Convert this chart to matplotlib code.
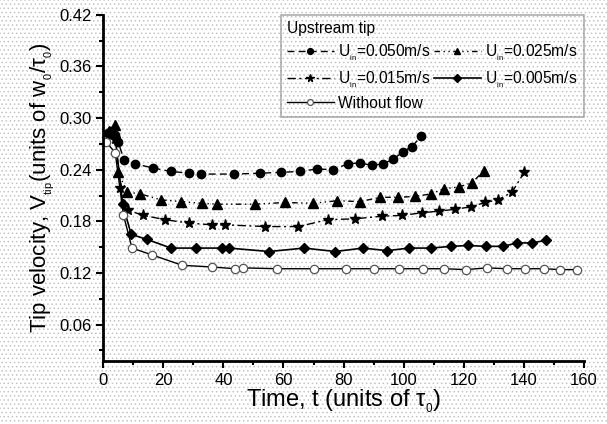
import matplotlib
matplotlib.use('Agg')
import matplotlib.pyplot as plt
from matplotlib.ticker import MultipleLocator
from matplotlib.patches import Rectangle

plt.rcParams['font.family'] = ['Liberation Sans', 'DejaVu Sans']
plt.rcParams['mathtext.fontset'] = 'custom'
plt.rcParams['mathtext.rm'] = 'Liberation Sans'
plt.rcParams['mathtext.it'] = 'Liberation Sans:italic'
plt.rcParams['hatch.linewidth'] = 0.6

# Upstream tip velocities (units of w0/tau0) vs time (units of tau0)
t_050 = [1.5, 2.5, 4, 5, 7, 10.6, 16.6, 22.6, 28.6, 32.6, 43.6, 52.2, 59.2, 65.5,
         71.2, 76.5, 81.5, 85.5, 89.5, 93.1, 96.5, 99.8, 102.8, 105.8]
v_050 = [0.283, 0.285, 0.28, 0.272, 0.251, 0.247, 0.242, 0.238, 0.236, 0.235, 0.235,
         0.236, 0.237, 0.238, 0.241, 0.240, 0.247, 0.248, 0.245, 0.247, 0.252, 0.261,
         0.267, 0.279]

t_025 = [2, 4, 5, 8, 12.3, 19.3, 26, 33, 38, 50.6, 60.5, 69.9, 77.8, 85.5, 92.2,
         98.1, 103.8, 109.1, 113.4, 118.4, 122.8, 126.7]
v_025 = [0.285, 0.292, 0.237, 0.214, 0.212, 0.205, 0.203, 0.201, 0.200, 0.200, 0.202,
         0.201, 0.204, 0.203, 0.208, 0.208, 0.209, 0.212, 0.218, 0.220, 0.225, 0.239]

t_015 = [2, 4, 5.7, 8.3, 13.3, 20.6, 28.6, 36.3, 40.6, 53.9, 64.9, 74.8, 83.8, 92.8,
         99.5, 106.1, 111.8, 117.1, 122.4, 127.1, 131.4, 136.1, 140.1]
v_015 = [0.280, 0.276, 0.219, 0.193, 0.187, 0.182, 0.178, 0.176, 0.176, 0.174, 0.174,
         0.182, 0.183, 0.186, 0.187, 0.190, 0.192, 0.194, 0.197, 0.202, 0.205, 0.214,
         0.237]

t_005 = [2, 4, 6.5, 9.3, 14.6, 22.6, 30.9, 39.6, 41.9, 55.2, 66.9, 77.2, 86.5, 94.5,
         101.8, 109.1, 115.8, 121.4, 127.4, 133.1, 137.7, 142.7, 147.4]
v_005 = [0.281, 0.278, 0.200, 0.165, 0.159, 0.149, 0.149, 0.149, 0.149, 0.145, 0.149,
         0.145, 0.149, 0.146, 0.149, 0.149, 0.151, 0.152, 0.151, 0.151, 0.155, 0.155,
         0.158]

t_noflow = [1, 4, 6.7, 9.6, 16.3, 26.3, 36.3, 43.9, 46.6, 57.9, 70.2, 80.8, 90.2, 98.5,
            106.5, 113.4, 120.8, 127.7, 134.4, 140.4, 146.7, 152.0, 157.7]
v_noflow = [0.272, 0.260, 0.188, 0.149, 0.141, 0.129, 0.127, 0.125, 0.126, 0.125, 0.125,
            0.125, 0.125, 0.125, 0.125, 0.125, 0.124, 0.126, 0.125, 0.125, 0.125, 0.124,
            0.124]

labels = [r'U$_{_{\rm in}}$=0.050m/s', r'U$_{_{\rm in}}$=0.025m/s',
          r'U$_{_{\rm in}}$=0.015m/s', r'U$_{_{\rm in}}$=0.005m/s', 'Without flow']

fig = plt.figure(figsize=(6.07, 4.24), dpi=100)
fig.patch.set_facecolor('white')
# halftone-like dotted background
fig.add_artist(Rectangle((0, 0), 1, 1, transform=fig.transFigure, facecolor='white',
                         edgecolor='#c4c4c4', lw=0, hatch='....', zorder=-10))
ax = fig.add_axes([0.170, 0.149, 0.792, 0.816])
ax.set_facecolor('none')

l1, = ax.plot(t_050, v_050, color='black', lw=1.0, ls=(0, (5, 3)), marker='o', ms=6)
l2, = ax.plot(t_025, v_025, color='black', lw=1.0, ls=(0, (4, 2.5, 1, 2.5, 1, 2.5)),
              marker='^', ms=7)
l3, = ax.plot(t_015, v_015, color='black', lw=1.0, ls=(0, (6, 2.5, 1.5, 2.5)),
              marker='*', ms=8)
l4, = ax.plot(t_005, v_005, color='black', lw=1.2, ls='-', marker='D', ms=5.5)
l5, = ax.plot(t_noflow, v_noflow, color='black', lw=1.0, ls='-', marker='o', ms=6,
              mfc='white', mec='#555555', mew=0.9)

ax.set_xlim(0, 160)
ax.set_ylim(0.018, 0.42)
ax.xaxis.set_major_locator(MultipleLocator(20))
ax.xaxis.set_minor_locator(MultipleLocator(10))
ax.yaxis.set_minor_locator(MultipleLocator(0.03))
ax.set_yticks([0.06, 0.12, 0.18, 0.24, 0.30, 0.36, 0.42])
ax.set_yticklabels(['0.06', '0.12', '0.18', '0.24', '0.30', '0.36', '0.42'])
ax.tick_params(which='major', direction='out', length=5, width=1.5, labelsize=12,
               colors='black')
ax.tick_params(which='minor', direction='out', length=3, width=1.5)

for side in ['top', 'right']:
    ax.spines[side].set_visible(False)
for side in ['left', 'bottom']:
    ax.spines[side].set_linewidth(2)

ax.set_xlabel(r'Time, t (units of τ$_{_0}$)', fontsize=17, labelpad=0)
ax.set_ylabel(r'Tip velocity, V$_{_{\rm tip}}$(units of w$_{_0}$/τ$_{_0}$)', fontsize=16,
              labelpad=2)

leg = ax.legend([l1, l3, l5, l2, l4],
                [labels[0], labels[2], labels[4], labels[1], labels[3]],
                ncol=2, title='Upstream tip', alignment='left', loc='upper right',
                bbox_to_anchor=(1.0, 1.0), fontsize=11.2, title_fontsize=11.2,
                frameon=True, fancybox=False, edgecolor='#999999', handlelength=3.0,
                handletextpad=0.3, columnspacing=0.2, labelspacing=0.4, borderpad=0.4,
                borderaxespad=0.0, markerscale=0.7)
leg.get_frame().set_linewidth(1.2)
leg.get_frame().set_facecolor('none')

fig.savefig('out.png', dpi=100)
